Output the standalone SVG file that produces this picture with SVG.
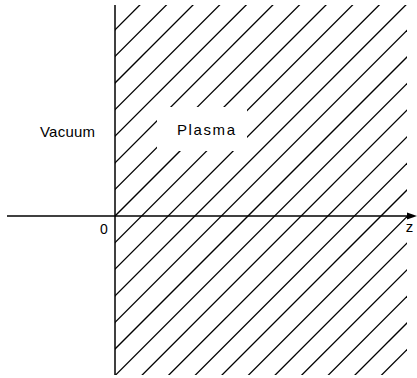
<svg xmlns="http://www.w3.org/2000/svg" width="417" height="378" viewBox="0 0 417 378">
  <style>
    .h { stroke: #000; stroke-width: 1.3; fill: none; }
    .ax { stroke: #000; stroke-width: 1.5; fill: none; }
    .t { font-family: "Liberation Sans", Arial, sans-serif; fill: #000; }
  </style>
  <defs>
    <clipPath id="plasmaClip">
      <rect x="115" y="5" width="292" height="370"/>
    </clipPath>
  </defs>
  <rect width="417" height="378" fill="#fff"/>
  <g id="hatch" clip-path="url(#plasmaClip)">
    <line class="h" x1="-235.2" y1="380" x2="144.8" y2="0"/>
    <line class="h" x1="-208.6" y1="380" x2="171.4" y2="0"/>
    <line class="h" x1="-182" y1="380" x2="198" y2="0"/>
    <line class="h" x1="-155.4" y1="380" x2="224.6" y2="0"/>
    <line class="h" x1="-128.8" y1="380" x2="251.2" y2="0"/>
    <line class="h" x1="-102.2" y1="380" x2="277.8" y2="0"/>
    <line class="h" x1="-75.6" y1="380" x2="304.4" y2="0"/>
    <line class="h" x1="-49" y1="380" x2="331" y2="0"/>
    <line class="h" x1="-22.4" y1="380" x2="357.6" y2="0"/>
    <line class="h" x1="4.2" y1="380" x2="384.2" y2="0"/>
    <line class="h" x1="30.8" y1="380" x2="410.8" y2="0"/>
    <line class="h" x1="57.4" y1="380" x2="437.4" y2="0"/>
    <line class="h" x1="84" y1="380" x2="464" y2="0"/>
    <line class="h" x1="110.6" y1="380" x2="490.6" y2="0"/>
    <line class="h" x1="137.2" y1="380" x2="517.2" y2="0"/>
    <line class="h" x1="163.8" y1="380" x2="543.8" y2="0"/>
    <line class="h" x1="190.4" y1="380" x2="570.4" y2="0"/>
    <line class="h" x1="217" y1="380" x2="597" y2="0"/>
    <line class="h" x1="243.6" y1="380" x2="623.6" y2="0"/>
    <line class="h" x1="270.2" y1="380" x2="650.2" y2="0"/>
    <line class="h" x1="296.8" y1="380" x2="676.8" y2="0"/>
    <line class="h" x1="323.4" y1="380" x2="703.4" y2="0"/>
    <line class="h" x1="350" y1="380" x2="730" y2="0"/>
    <line class="h" x1="376.6" y1="380" x2="756.6" y2="0"/>
  </g>
  <g id="plasma-label">
    <rect x="157" y="107" width="90" height="44" fill="#fff"/>
    <text class="t" x="177" y="135" font-size="15" textLength="58" lengthAdjust="spacing">Plasma</text>
  </g>
  <g id="vacuum-label">
    <text class="t" x="40" y="137" font-size="15" textLength="55" lengthAdjust="spacing">Vacuum</text>
  </g>
  <g id="connectors">
    <line id="boundary" class="ax" x1="115" y1="5" x2="115" y2="375"/>
    <line id="z-axis" class="ax" x1="7" y1="216" x2="408" y2="216"/>
    <polygon points="407,212.6 417,216 407,219.4" fill="#000"/>
  </g>
  <g id="axis-labels">
    <text class="t" x="104" y="234" font-size="14" text-anchor="middle">0</text>
    <text class="t" x="409.5" y="232" font-size="15" text-anchor="middle">z</text>
  </g>
</svg>
